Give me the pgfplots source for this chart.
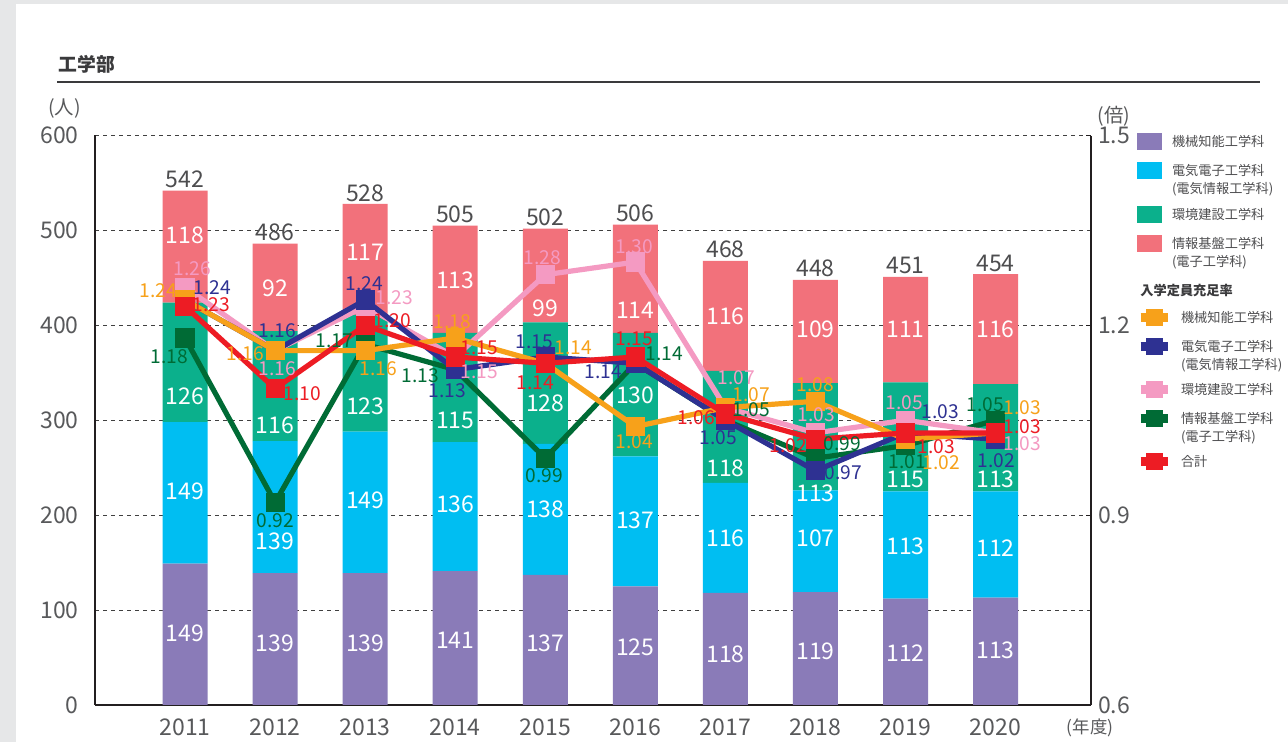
\documentclass[border=0pt]{standalone}
\usepackage{fontspec}
\setmainfont{Noto Sans CJK JP}
\usepackage{pgfplots}
\pgfplotsset{compat=1.18}
\usepackage{pgfplotstable}

\definecolor{cKikai}{HTML}{8A7BB8}
\definecolor{cDenki}{HTML}{00BEF2}
\definecolor{cKankyo}{HTML}{0BB08C}
\definecolor{cJoho}{HTML}{F2717B}
\definecolor{rKikai}{HTML}{F7A11A}
\definecolor{rDenki}{HTML}{2E3192}
\definecolor{rKankyo}{HTML}{F49AC2}
\definecolor{rJoho}{HTML}{006B35}
\definecolor{rTotal}{HTML}{ED1C24}
\definecolor{tickgray}{HTML}{58595B}
\definecolor{totgray}{HTML}{4D4D4F}
\definecolor{legtxt}{HTML}{4F4F51}
\definecolor{titlegray}{HTML}{3A3A3C}
\definecolor{bggray}{HTML}{E6E7E8}
\definecolor{axisblack}{HTML}{231F20}

% enrolment: values and label positions (data units)
\pgfplotstableread{
year kikai denki kankyo joho total ykik yden ykan yjoh
2011 149 149 126 118 542 75.8 225.3 325.3 494.7
2012 139 139 116 92 486 65.3 172.6 294.7 438.9
2013 139 149 123 117 528 65.3 215.8 314.7 476.8
2014 141 136 115 113 505 68.4 211.6 300.0 447.4
2015 137 138 128 99 502 65.3 206.3 317.9 417.9
2016 125 137 130 114 506 61.1 194.7 326.3 415.8
2017 118 116 118 116 468 53.7 175.8 249.5 409.5
2018 119 107 113 109 448 56.8 175.8 223.2 395.8
2019 112 113 115 111 451 54.7 167.4 237.9 395.8
2020 113 112 113 116 454 57.9 165.3 237.9 395.8
}\enrol

% rates: year rate label-dx label-dy (pt)
\pgfplotstableread{
year rate dx dy
2011 1.24 -13.5 4.5
2012 1.16 -15 -1.5
2013 1.16 6.5 -9
2014 1.18 -1.5 8
2015 1.14 14 8
2016 1.04 -0.5 -7.5
2017 1.07 13 6.5
2018 1.08 0 8.5
2019 1.02 18 -11.5
2020 1.03 13.5 12.5
}\rkik
\pgfplotstableread{
year rate dx dy
2011 1.24 13.5 6
2012 1.16 1 10
2013 1.24 -0.5 8
2014 1.13 -4 -10.5
2015 1.15 -5.5 7.5
2016 1.14 -16 -4
2017 1.05 -3.5 -8.5
2018 0.97 14 -1
2019 1.03 17.5 10.5
2020 1.02 0.5 -10.5
}\rden
\pgfplotstableread{
year rate dx dy
2011 1.26 3.5 9.5
2012 1.16 1 -9
2013 1.23 14.5 4.5
2014 1.15 12 -7.5
2015 1.28 -1.5 8.5
2016 1.30 -0.5 7.5
2017 1.07 5.5 15
2018 1.03 0.5 9
2019 1.05 -0.5 9
2020 1.03 13.5 -5.5
}\rkan
\pgfplotstableread{
year rate dx dy
2011 1.18 -8 -9.5
2012 0.92 0 -9
2013 1.17 -15.5 2
2014 1.13 -17.5 -3
2015 0.99 -0.5 -8.5
2016 1.14 14.5 5
2017 1.05 13 5.5
2018 0.99 13.5 7.5
2019 1.01 1 -8
2020 1.05 -5 8
}\rjoh
\pgfplotstableread{
year rate dx dy
2011 1.23 13 1
2012 1.10 13.5 -2.5
2013 1.20 13.5 2.5
2014 1.15 12 4.5
2015 1.14 -5 -9.5
2016 1.15 -0.5 9
2017 1.06 -14.5 -2
2018 1.02 -13.5 -3
2019 1.03 15.5 -7
2020 1.03 13.5 3
}\rtot

% two-line legend text: second line hangs below the first
\newcommand\twoline[2]{\makebox[0pt][l]{\raisebox{-9pt}[0pt][0pt]{#2}}#1}
\def\legdepth{0pt}
\tikzset{legdepth/.code={\def\legdepth{#1}}}

\pgfplotsset{
  common/.style={
    scale only axis, width=498pt, height=284.75pt,
    at={(47.5pt,18.5pt)}, anchor=south west,
    xmin=2010, xmax=2021.06,
    /pgf/number format/assume math mode=true,
    /pgf/number format/1000 sep={},
  },
  rateline/.style={color=#1, line width=2.6pt, mark=square*, mark size=3.5pt,
    mark options={draw=none, fill=#1}, forget plot},
  ratelab/.style={draw=none, mark=none, forget plot,
    point meta=\thisrow{rate},
    nodes near coords={\pgfmathprintnumber[fixed,fixed zerofill,precision=2,assume math mode=true]{\pgfplotspointmeta}},
    visualization depends on={\thisrow{dx}\as\labdx},
    visualization depends on={\thisrow{dy}\as\labdy},
    every node near coord/.append style={anchor=center, inner sep=0pt, text=#1,
      font=\fontsize{9.6}{12}\selectfont, xshift=\labdx pt, yshift=\labdy pt}},
  barlab/.style={draw=none, mark=none, forget plot,
    point meta=explicit symbolic, nodes near coords,
    every node near coord/.append style={anchor=center, inner sep=0pt, text=white,
      font=\fontsize{11.5}{13}\selectfont}},
  legcommon/.style={
    draw=none, fill=none, inner sep=0pt, outer sep=0pt,
    font=\fontsize{6.6}{9}\selectfont, text=legtxt,
    nodes={inner sep=0pt, text=legtxt},
    cells={anchor=base west},
    row sep=6pt},
}

\begin{document}
\begin{tikzpicture}
\path[use as bounding box] (0,0) rectangle (644pt,371pt);
\fill[bggray] (0,0) rectangle (644pt,371pt);
\fill[white] (8pt,0) rectangle (644pt,369pt);

% title
\node[anchor=west, inner sep=0pt, font=\fontsize{9.4}{10}\selectfont\bfseries, text=titlegray] at (29pt,339pt) {工学部};
\draw[line width=1pt, titlegray] (28.5pt,330pt) -- (630pt,330pt);
\node[inner sep=0pt, font=\fontsize{9.7}{10}\selectfont, text=tickgray] at (32.25pt,317pt) {(人)};
\node[inner sep=0pt, font=\fontsize{9.7}{10}\selectfont, text=tickgray] at (557pt,313pt) {(倍)};
\node[inner sep=0pt, font=\fontsize{8.7}{10}\selectfont, text=tickgray] at (545pt,7pt) {(年度)};
\node[anchor=west, inner sep=0pt, font=\fontsize{6.6}{9}\selectfont\bfseries, text=titlegray] at (570pt,225.5pt) {入学定員充足率};

% bars
\begin{axis}[common,
  ybar stacked, bar width=22.5pt,
  ymin=0, ymax=600, ytick={0,100,...,600},
  xtick={2011,2012,...,2020},
  axis x line*=bottom, axis y line*=left,
  axis line style={line width=1.4pt, color=axisblack},
  major tick length=0pt,
  ymajorgrids, grid style={dash pattern=on 2pt off 2pt, line width=0.5pt, color=black!75},
  tick label style={font=\fontsize{11.5}{13}\selectfont, text=tickgray},
  yticklabel style={xshift=-4.7pt},
  xticklabel style={yshift=-3.5pt},
  legend style={legcommon, at={(1.04618,1.00351)}, anchor=north west,
    /tikz/every odd column/.append style={column sep=5pt}},
  legend image code/.code={\begin{scope}[#1]
    \fill (0pt,-1.75pt) rectangle (12.5pt,6.75pt);
    \path[draw=none, fill=none] (0pt,-\legdepth) rectangle (0pt,0pt);\end{scope}},
]
\addplot[fill=cKikai, draw=none] table[x=year,y=kikai]{\enrol};
\addlegendentry{機械知能工学科}
\addplot[fill=cDenki, draw=none, legdepth=9pt] table[x=year,y=denki]{\enrol};
\addlegendentry{\twoline{電気電子工学科}{(電気情報工学科)}}
\addplot[fill=cKankyo, draw=none] table[x=year,y=kankyo]{\enrol};
\addlegendentry{環境建設工学科}
\addplot[fill=cJoho, draw=none, legdepth=9pt] table[x=year,y=joho]{\enrol};
\addlegendentry{\twoline{情報基盤工学科}{(電子工学科)}}
\end{axis}

% bar labels
\begin{axis}[common, hide axis, ymin=0, ymax=600, clip=false]
\addplot[barlab] table[x=year,y=ykik,meta=kikai]{\enrol};
\addplot[barlab] table[x=year,y=yden,meta=denki]{\enrol};
\addplot[barlab] table[x=year,y=ykan,meta=kankyo]{\enrol};
\addplot[barlab] table[x=year,y=yjoh,meta=joho]{\enrol};
\addplot[barlab, every node near coord/.append style={text=totgray, yshift=5.5pt}] table[x=year,y=total,meta=total]{\enrol};
\end{axis}

% rates
\begin{axis}[common, clip=false,
  ymin=0.6, ymax=1.5, ytick={0.6,0.9,1.2,1.5},
  axis y line*=right, axis x line=none,
  axis line style={line width=1.4pt, color=axisblack},
  tick align=inside, major tick length=2.5pt,
  tick style={line width=0.6pt, color=axisblack},
  yticklabel style={/pgf/number format/.cd, fixed, fixed zerofill, precision=1},
  tick label style={font=\fontsize{11.5}{13}\selectfont, text=tickgray},
  legend style={legcommon, at={(1.04518,0.6953)}, anchor=north west,
    /tikz/every odd column/.append style={column sep=4.5pt}},
  legend image code/.code={\begin{scope}[#1]
    \draw[mark=none, line width=4.5pt] (0pt,2.5pt) -- (13.5pt,2.5pt);
    \fill (2.75pt,-1.5pt) rectangle (10.75pt,6.5pt);
    \path[draw=none, fill=none] (0pt,-\legdepth) rectangle (0pt,0pt);\end{scope}},
]
\addplot[rateline=rJoho] table[x=year,y=rate]{\rjoh};
\addplot[rateline=rKankyo] table[x=year,y=rate]{\rkan};
\addplot[rateline=rDenki] table[x=year,y=rate]{\rden};
\addplot[rateline=rKikai] table[x=year,y=rate]{\rkik};
\addplot[rateline=rTotal] table[x=year,y=rate]{\rtot};

\addplot[ratelab=rJoho] table[x=year,y=rate]{\rjoh};
\addplot[ratelab=rKankyo] table[x=year,y=rate]{\rkan};
\addplot[ratelab=rDenki] table[x=year,y=rate]{\rden};
\addplot[ratelab=rKikai] table[x=year,y=rate]{\rkik};
\addplot[ratelab=rTotal] table[x=year,y=rate]{\rtot};

\addlegendimage{color=rKikai}
\addlegendentry{機械知能工学科}
\addlegendimage{color=rDenki, legdepth=9pt}
\addlegendentry{\twoline{電気電子工学科}{(電気情報工学科)}}
\addlegendimage{color=rKankyo}
\addlegendentry{環境建設工学科}
\addlegendimage{color=rJoho, legdepth=9pt}
\addlegendentry{\twoline{情報基盤工学科}{(電子工学科)}}
\addlegendimage{color=rTotal}
\addlegendentry{合計}
\end{axis}
\end{tikzpicture}
\end{document}
